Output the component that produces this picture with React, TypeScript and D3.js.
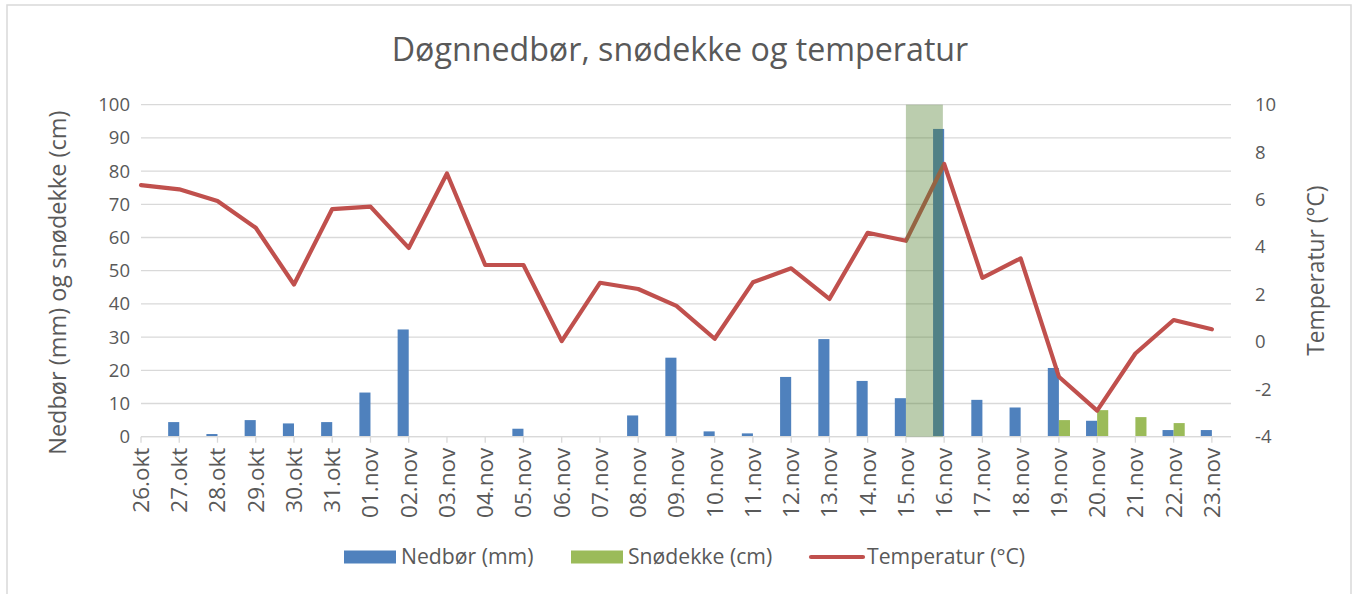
import React, { useEffect, useRef } from "react";
import * as d3 from "d3";

const days = [
  "26.okt", "27.okt", "28.okt", "29.okt", "30.okt", "31.okt",
  "01.nov", "02.nov", "03.nov", "04.nov", "05.nov", "06.nov", "07.nov",
  "08.nov", "09.nov", "10.nov", "11.nov", "12.nov", "13.nov", "14.nov",
  "15.nov", "16.nov", "17.nov", "18.nov", "19.nov", "20.nov", "21.nov",
  "22.nov", "23.nov",
];
const nedbor = [
  11, 4.4, 0.8, 5, 4, 4.4, 13.3, 32.3, 0.2, 0, 2.4, 0, 0, 6.4, 23.8, 1.6,
  1.0, 18, 29.4, 16.8, 11.6, 92.7, 11.1, 8.8, 20.7, 4.8, 0, 2.0, 2.0,
];
const snodekke = [
  0, 0, 0, 0, 0, 0, 0, 0, 0, 0, 0, 0, 0, 0, 0, 0, 0, 0, 0, 0, 0, 0, 0, 0,
  5.0, 8.0, 5.9, 4.1, 0,
];
const temperatur = [
  6.61, 6.43, 5.94, 4.81, 2.42, 5.6, 5.7, 3.96, 7.1, 3.24, 3.24, 0.03, 2.49,
  2.23, 1.52, 0.13, 2.51, 3.1, 1.81, 4.6, 4.26, 7.5, 2.7, 3.52, -1.47, -2.9,
  -0.49, 0.92, 0.53,
];
const leftTicks = [0, 10, 20, 30, 40, 50, 60, 70, 80, 90, 100];
const rightTicks = [-4, -2, 0, 2, 4, 6, 8, 10];
const highlight = ["15.nov", "16.nov"];

const font = "'Open Sans', sans-serif";
const grey = "#595959";

const App = () => {
  const svgRef = useRef<SVGSVGElement>(null);

  useEffect(() => {
    const w = 1356;
    const h = 594;
    const svg = d3.select(svgRef.current);
    svg.selectAll("*").remove();

    const left = 141;
    const right = 1231;
    const top = 104.7;
    const bottom = 436.7;

    // categories sit on the tick marks, axis runs half a step past the last one
    const x = d3
      .scaleLinear()
      .domain([0, days.length - 0.5])
      .range([left, right]);
    const step = x(1) - x(0);
    const yL = d3.scaleLinear().domain([0, 100]).range([bottom, top]);
    const yR = d3.scaleLinear().domain([-4, 10]).range([bottom, top]);

    svg
      .append("rect")
      .attr("x", 7)
      .attr("y", 5)
      .attr("width", 1344)
      .attr("height", 600)
      .attr("fill", "#fff")
      .attr("stroke", "#D9D9D9")
      .attr("stroke-width", 1.5);

    svg
      .append("text")
      .attr("x", 680)
      .attr("y", 61)
      .attr("text-anchor", "middle")
      .attr("font-family", font)
      .attr("font-size", 32.2)
      .attr("fill", grey)
      .text("Døgnnedbør, snødekke og temperatur");

    // gridlines
    svg
      .append("g")
      .selectAll("line")
      .data(leftTicks)
      .join("line")
      .attr("x1", left)
      .attr("x2", right)
      .attr("y1", (d) => yL(d))
      .attr("y2", (d) => yL(d))
      .attr("stroke", "#D9D9D9")
      .attr("stroke-width", 1.3);

    const defs = svg.append("defs");
    defs
      .append("clipPath")
      .attr("id", "plotclip")
      .append("rect")
      .attr("x", left)
      .attr("y", top - 10)
      .attr("width", right - left)
      .attr("height", bottom - top + 10);

    const barW = step * 0.29;
    const bars = svg.append("g").attr("clip-path", "url(#plotclip)");
    bars
      .selectAll(".ned")
      .data(nedbor)
      .join("rect")
      .attr("class", "ned")
      .attr("x", (d, i) => x(i) - barW)
      .attr("y", (d) => yL(d))
      .attr("width", barW)
      .attr("height", (d) => bottom - yL(d))
      .attr("fill", "#4F81BD");
    bars
      .selectAll(".sno")
      .data(snodekke)
      .join("rect")
      .attr("class", "sno")
      .attr("x", (d, i) => x(i))
      .attr("y", (d) => yL(d))
      .attr("width", barW)
      .attr("height", (d) => bottom - yL(d))
      .attr("fill", "#9BBB59");

    // x axis line + ticks
    svg
      .append("line")
      .attr("x1", left)
      .attr("x2", right)
      .attr("y1", bottom)
      .attr("y2", bottom)
      .attr("stroke", "#D9D9D9")
      .attr("stroke-width", 1.3);
    svg
      .append("g")
      .selectAll("line")
      .data(days)
      .join("line")
      .attr("x1", (d, i) => x(i))
      .attr("x2", (d, i) => x(i))
      .attr("y1", bottom)
      .attr("y2", bottom + 6)
      .attr("stroke", "#D9D9D9")
      .attr("stroke-width", 1.3);

    const line = d3
      .line<number>()
      .x((d, i) => x(i))
      .y((d) => yR(d));
    svg
      .append("path")
      .datum(temperatur)
      .attr("d", line)
      .attr("fill", "none")
      .attr("stroke", "#C0504D")
      .attr("stroke-width", 4.2)
      .attr("stroke-linejoin", "round")
      .attr("stroke-linecap", "round");

    // shaded day on top of everything
    const i0 = days.indexOf(highlight[0]);
    const i1 = days.indexOf(highlight[1]);
    svg
      .append("rect")
      .attr("x", x(i0))
      .attr("y", top)
      .attr("width", x(i1) - x(i0) - 1.3)
      .attr("height", bottom - top)
      .attr("fill", "#548235")
      .attr("opacity", 0.4);

    // tick labels
    svg
      .append("g")
      .selectAll("text")
      .data(leftTicks)
      .join("text")
      .attr("x", 130)
      .attr("y", (d) => yL(d))
      .attr("dy", "0.35em")
      .attr("text-anchor", "end")
      .attr("font-family", font)
      .attr("font-size", 18.5)
      .attr("fill", grey)
      .text((d) => d);
    svg
      .append("g")
      .selectAll("text")
      .data(rightTicks)
      .join("text")
      .attr("x", 1255)
      .attr("y", (d) => yR(d))
      .attr("dy", "0.35em")
      .attr("text-anchor", "start")
      .attr("font-family", font)
      .attr("font-size", 18.5)
      .attr("fill", grey)
      .text((d) => d);
    svg
      .append("g")
      .selectAll("text")
      .data(days)
      .join("text")
      .attr(
        "transform",
        (d, i) => `translate(${x(i)},${bottom + 11}) rotate(-90)`
      )
      .attr("dy", "0.35em")
      .attr("text-anchor", "end")
      .attr("font-family", font)
      .attr("font-size", 22.5)
      .attr("fill", grey)
      .text((d) => d);

    // axis titles
    svg
      .append("text")
      .attr("transform", `translate(58,${(top + bottom) / 2 + 12}) rotate(-90)`)
      .attr("text-anchor", "middle")
      .attr("dy", "0.35em")
      .attr("font-family", font)
      .attr("font-size", 23.5)
      .attr("fill", grey)
      .text("Nedbør (mm) og snødekke (cm)");
    svg
      .append("text")
      .attr("transform", `translate(1316,${(top + bottom) / 2 - 0}) rotate(-90)`)
      .attr("text-anchor", "middle")
      .attr("dy", "0.35em")
      .attr("font-family", font)
      .attr("font-size", 22.8)
      .attr("fill", grey)
      .text("Temperatur (°C)");

    // legend
    const legend = [
      { label: "Nedbør (mm)", color: "#4F81BD", kind: "bar", x: 344 },
      { label: "Snødekke (cm)", color: "#9BBB59", kind: "bar", x: 571 },
      { label: "Temperatur (°C)", color: "#C0504D", kind: "line", x: 809 },
    ];
    const lg = svg
      .append("g")
      .selectAll("g")
      .data(legend)
      .join("g")
      .attr("transform", (d) => `translate(${d.x},557)`);
    lg.filter((d) => d.kind === "bar")
      .append("rect")
      .attr("x", 0)
      .attr("y", -6.5)
      .attr("width", 52)
      .attr("height", 13)
      .attr("fill", (d) => d.color);
    lg.filter((d) => d.kind === "line")
      .append("line")
      .attr("x1", 2)
      .attr("x2", 54)
      .attr("y1", 0)
      .attr("y2", 0)
      .attr("stroke", (d) => d.color)
      .attr("stroke-width", 4.2)
      .attr("stroke-linecap", "round");
    lg.append("text")
      .attr("x", (d) => (d.kind === "bar" ? 57 : 58))
      .attr("y", 0)
      .attr("dy", "0.35em")
      .attr("font-family", font)
      .attr("font-size", 21.2)
      .attr("fill", grey)
      .text((d) => d.label);

    svg.attr("width", w).attr("height", h);
  }, []);

  return (
    <svg
      ref={svgRef}
      style={{ position: "absolute", left: 0, top: 0, display: "block" }}
    ></svg>
  );
};

export default App;
